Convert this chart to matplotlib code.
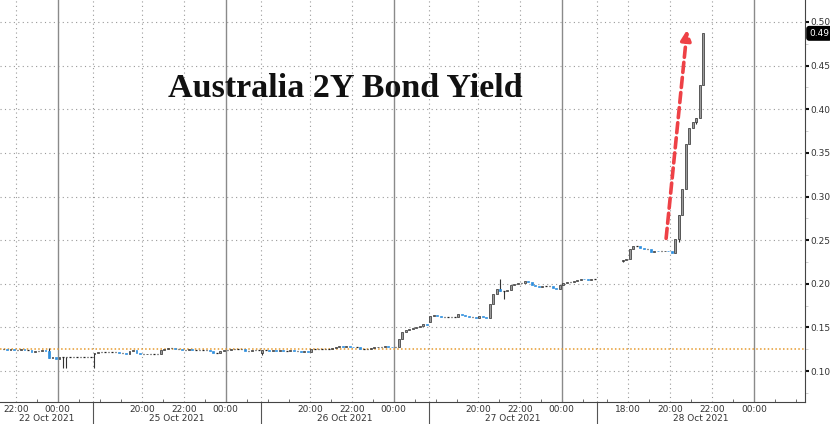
import matplotlib.pyplot as plt
import matplotlib.transforms as mtransforms
import numpy as np

# sessions on the compressed time axis (clock hours, >24 = after midnight)
sessions = ['22 Oct 2021', '25 Oct 2021', '26 Oct 2021', '27 Oct 2021', '28 Oct 2021']
sess_open = [21.25, 17.667, 17.667, 17.667, 16.5]
sess_close = [25.667, 25.667, 25.667, 25.667, 26.417]
first_bar = ['21:20', '17:40', '17:40', '17:40', '17:40']
hour_ticks = [['22:00', '00:00'],
              ['20:00', '22:00', '00:00'],
              ['20:00', '22:00', '00:00'],
              ['20:00', '22:00', '00:00'],
              ['18:00', '20:00', '22:00', '00:00']]

# 10-minute candles: first open + closes per session
first_open = [0.125, 0.120, 0.121, 0.156, 0.226]
closes = [
    [0.125, 0.124, 0.125, 0.124, 0.124, 0.125, 0.124, 0.124, 0.122, 0.123, 0.123, 0.124, 0.123,
     0.115, 0.116, 0.114, 0.116, 0.116, 0.116, 0.116, 0.116, 0.116, 0.116, 0.116, 0.116, 0.116],
    [0.121, 0.122, 0.122, 0.122, 0.122, 0.122, 0.122, 0.121, 0.121, 0.120, 0.123, 0.124,
     0.121, 0.119, 0.119, 0.120, 0.120, 0.120, 0.120, 0.124, 0.125, 0.126, 0.126, 0.125,
     0.125, 0.124, 0.124, 0.125, 0.124, 0.124, 0.124, 0.124, 0.124, 0.123, 0.121, 0.121,
     0.123, 0.124, 0.124, 0.125, 0.125, 0.125, 0.125, 0.123, 0.123, 0.124, 0.124, 0.124],
    [0.124, 0.124, 0.123, 0.124, 0.123, 0.124, 0.123, 0.123, 0.124, 0.123, 0.123, 0.122,
     0.123, 0.122, 0.125, 0.125, 0.125, 0.125, 0.125, 0.125, 0.126, 0.128, 0.129, 0.128,
     0.129, 0.128, 0.127, 0.127, 0.125, 0.125, 0.125, 0.126, 0.127, 0.128, 0.128, 0.129,
     0.128, 0.127, 0.127, 0.137, 0.145, 0.147, 0.148, 0.149, 0.150, 0.152, 0.154, 0.153],
    [0.163, 0.164, 0.163, 0.162, 0.162, 0.162, 0.162, 0.162, 0.165, 0.164, 0.163, 0.162,
     0.162, 0.161, 0.163, 0.162, 0.161, 0.177, 0.188, 0.194, 0.192, 0.192, 0.193, 0.199,
     0.200, 0.201, 0.201, 0.203, 0.202, 0.199, 0.198, 0.196, 0.197, 0.197, 0.197, 0.195,
     0.194, 0.199, 0.201, 0.202, 0.202, 0.203, 0.204, 0.206, 0.205, 0.204, 0.205, 0.205],
    [0.227, 0.228, 0.240, 0.243, 0.243, 0.241, 0.240, 0.240, 0.236, 0.238, 0.237, 0.237,
     0.238, 0.237, 0.235, 0.251, 0.279, 0.309, 0.360, 0.378, 0.385, 0.390, 0.428, 0.487],
]
# extra wicks (session, bar): (low, high)
wicks = {(0, 13): (None, 0.126), (0, 17): (0.103, None), (0, 18): (0.103, None),
         (1, 0): (0.104, None), (2, 0): (0.118, None),
         (3, 20): (None, 0.206), (3, 21): (0.182, None),
         (4, 0): (0.225, None), (4, 16): (0.248, None), (4, 21): (0.383, None)}

ref_level = 0.125
last_label = '0.49'


def hm(s):
    h, m = s.split(':')
    return int(h) + int(m) / 60


starts = np.concatenate([[0], np.cumsum(np.array(sess_close) - np.array(sess_open))[:-1]])
x_end = float(np.sum(np.array(sess_close) - np.array(sess_open)))


def to_x(i, clock):
    return starts[i] + clock - sess_open[i]


fig = plt.figure(figsize=(8.3, 4.24), dpi=100)
ax = fig.add_axes([0, 22 / 424, 805 / 830, 402 / 424])
ax.set_xlim(0, x_end)
ax.set_ylim(0.0645, 0.5252)

# grid
for yv in np.arange(0.10, 0.51, 0.05):
    ax.axhline(yv, color='#9a9a9a', lw=0.8, ls=(0, (1, 3)), zorder=1)
tick_x, tick_lab = [], []
for i in range(len(sessions)):
    for lab in hour_ticks[i]:
        c = hm(lab)
        if c < 12:
            c += 24
        xv = to_x(i, c)
        tick_x.append(xv)
        tick_lab.append(lab)
        if lab == '00:00':
            ax.axvline(xv, color='#8a8a8a', lw=1.0, zorder=1)
        else:
            ax.axvline(xv, color='#9a9a9a', lw=0.8, ls=(0, (1, 3)), zorder=1)
    if i > 0:
        ax.axvline(starts[i], color='#9a9a9a', lw=0.8, ls=(0, (1, 3)), zorder=1)

ax.axhline(ref_level, color='#e69a2e', lw=1.1, ls=(0, (1, 1.5)), zorder=2)

# candles
up_x, up_b, up_h, dn_x, dn_b, dn_h, dj_x, dj_y = [], [], [], [], [], [], [], []
wk_x, wk_lo, wk_hi = [], [], []
bw = 0.095
for i in range(len(sessions)):
    o = first_open[i]
    for k, c in enumerate(closes[i]):
        xv = to_x(i, hm(first_bar[i]) + k / 6 + 1 / 12)
        lo, hi = min(o, c), max(o, c)
        if (i, k) in wicks:
            wl, wh = wicks[(i, k)]
            if wl is not None:
                lo = wl
            if wh is not None:
                hi = wh
        if lo < min(o, c) or hi > max(o, c):
            wk_x.append(xv)
            wk_lo.append(lo)
            wk_hi.append(hi)
        if abs(c - o) < 0.0005:
            dj_x.append(xv)
            dj_y.append(c)
        elif c > o:
            up_x.append(xv); up_b.append(o); up_h.append(c - o)
        else:
            dn_x.append(xv); dn_b.append(c); dn_h.append(o - c)
        o = c

ax.vlines(wk_x, wk_lo, wk_hi, color='#333333', lw=0.8, zorder=3)
ax.bar(up_x, up_h, bottom=up_b, width=bw, color='#9c9c9c', edgecolor='#2a2a2a', lw=0.5, zorder=4)
ax.bar(dn_x, dn_h, bottom=dn_b, width=bw, color='#2e8ede', edgecolor='#2e8ede', lw=0.5, zorder=4)
ax.hlines(dj_y, np.array(dj_x) - 0.035, np.array(dj_x) + 0.035, color='#222222', lw=0.9, zorder=4)

# arrow
ax.annotate('', xy=(32.72, 0.491), xytext=(31.72, 0.252),
            arrowprops=dict(arrowstyle='-|>,head_length=0.6,head_width=0.3', color='#ee4146',
                            lw=2.6, ls=(0, (2.8, 1.4)), shrinkA=0, shrinkB=0), zorder=5)

ax.text(0.429, 0.781, 'Australia 2Y Bond Yield', transform=ax.transAxes, ha='center', va='center',
        fontsize=24.5, fontweight='bold', family='Liberation Serif', color='#111111')

# axes styling
for s in ['left', 'top']:
    ax.spines[s].set_visible(False)
ax.spines['right'].set_color('#444444')
ax.spines['bottom'].set_color('#444444')
ax.yaxis.tick_right()
ax.set_yticks(np.arange(0.10, 0.51, 0.05))
ax.set_yticklabels(['%.2f' % v for v in np.arange(0.10, 0.51, 0.05)])
ax.set_yticks(np.arange(0.075, 0.52, 0.05), minor=True)
ax.tick_params(axis='y', which='major', direction='out', length=3, width=1.5, color='#111111',
               labelsize=6.5, labelcolor='#333333', pad=1)
ax.tick_params(axis='y', which='minor', direction='out', length=2, width=0.5, color='#bbbbbb')
ax.set_xticks(tick_x)
ax.set_xticklabels(tick_lab)
ax.tick_params(axis='x', which='major', length=0, labelsize=6.5, labelcolor='#333333', pad=2)
hour_minor = []
for i in range(len(sessions)):
    h = np.ceil(sess_open[i])
    while h < sess_close[i]:
        hour_minor.append(to_x(i, h))
        h += 1
ax.set_xticks(hour_minor, minor=True)
ax.tick_params(axis='x', which='minor', direction='in', length=2.5, width=0.6, color='#555555')

trans = mtransforms.blended_transform_factory(ax.transData, ax.transAxes)
for i, name in enumerate(sessions):
    mid = (starts[i] + (starts[i + 1] if i + 1 < len(sessions) else x_end)) / 2
    ax.text(mid, -0.04, name, transform=trans, ha='center', va='center', fontsize=6.5, color='#333333')
    if i > 0:
        ax.plot([starts[i], starts[i]], [0, -0.06], transform=trans, color='#555555', lw=0.8, clip_on=False)

ytrans = mtransforms.blended_transform_factory(ax.transAxes, ax.transData)
ax.annotate(last_label, xy=(1.0, closes[-1][-1]), xycoords=ytrans,
            xytext=(3, 0), textcoords='offset points', ha='left', va='center',
            fontsize=6.5, color='white',
            bbox=dict(boxstyle='round,pad=0.25', fc='black', ec='black'))

fig.savefig('out.png', dpi=100)
